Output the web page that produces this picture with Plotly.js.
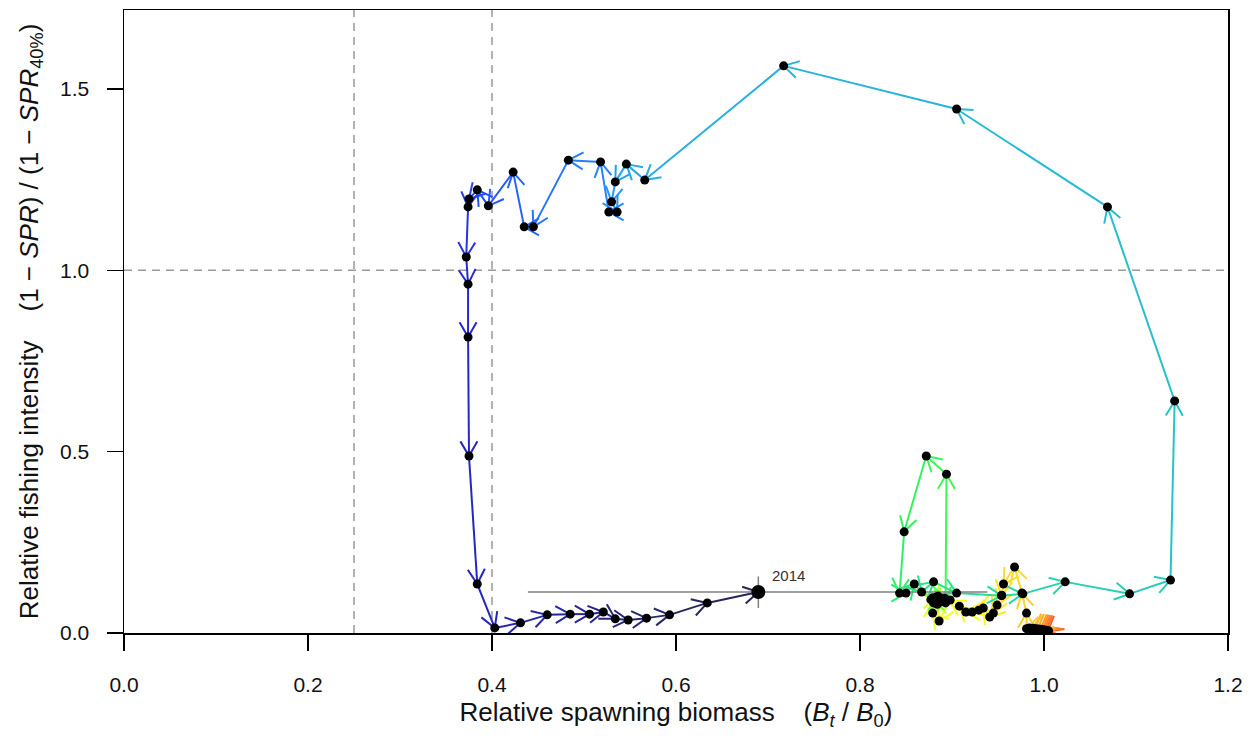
<!DOCTYPE html>
<html><head><meta charset="utf-8">
<script src="https://cdn.plot.ly/plotly-3.0.1.min.js"></script>
<style>html,body{margin:0;padding:0;background:#fff}</style>
</head><body>
<div id="chart" style="width:1256px;height:739px"></div>
<script>
// Relative spawning biomass (Bt/B0), in time order (earliest first, last = 2014)
const relSB = [
  1.005,1.004,1.003,1.002,1.001,1.000,0.999,0.998,0.997,0.996,0.994,0.993,0.991,0.990,0.988,0.986,0.984,0.981,
  0.981,0.976,0.968,0.956,0.954,0.949,0.945,0.941,0.934,0.929,0.922,0.915,0.908,
  0.898,0.886,0.879,0.880,0.879,0.883,0.887,0.882,0.889,0.884,0.891,0.877,0.885,0.892,0.893,
  0.894,
  0.872,0.848,0.843,0.850,0.859,0.867,0.880,0.905,0.954,0.977,
  1.023,1.093,1.1375,1.142,1.069,0.905,0.717,0.566,
  0.546,0.534,0.530,0.536,0.527,0.518,0.483,0.445,0.435,0.423,0.396,0.384,0.375,0.374,
  0.372,0.374,0.374,0.375,0.384,0.403,
  0.431,0.460,0.485,0.506,0.521,0.534,0.548,0.568,0.593,0.634,0.6895
];
// Relative fishing intensity (1-SPR)/(1-SPR40%)
const relSPR = [
  0.006,0.004,0.007,0.005,0.008,0.006,0.009,0.007,0.010,0.008,0.011,0.009,0.012,0.010,0.013,0.011,0.014,0.012,
  0.055,0.110,0.182,0.135,0.104,0.077,0.055,0.044,0.069,0.063,0.058,0.058,0.074,
  0.091,0.033,0.055,0.083,0.097,0.099,0.085,0.090,0.094,0.079,0.088,0.092,0.101,0.096,0.083,
  0.438,
  0.488,0.279,0.110,0.110,0.135,0.113,0.141,0.110,0.103,0.108,
  0.141,0.108,0.146,0.640,1.175,1.445,1.564,1.249,
  1.293,1.244,1.189,1.161,1.161,1.299,1.304,1.120,1.120,1.271,1.178,1.222,1.197,1.175,
  1.037,0.962,0.816,0.488,0.135,0.014,
  0.028,0.050,0.052,0.052,0.058,0.039,0.036,0.041,0.050,0.083,0.113
];
const lastYear = 2014;
const ciSB = [0.439, 0.9385];   // interval of final-year relative biomass
const ciSPR = [0.069, 0.156];   // interval of final-year relative fishing intensity
const refSB = [0.25, 0.40];
const refSPR = [1.0];
const xTicks = [0, 0.2, 0.4, 0.6, 0.8, 1.0, 1.2];
const xTickText = ['0.0','0.2','0.4','0.6','0.8','1.0','1.2'];
const yTicks = [0, 0.5, 1.0, 1.5];
const yTickText = ['0.0','0.5','1.0','1.5'];

const W = 1256, H = 739, M = {l:124, r:28, t:10, b:106};
const xr = [0, 1.2], yr = [0, 1.718];
const pxX = (W - M.l - M.r) / (xr[1] - xr[0]);
const pxY = (H - M.t - M.b) / (yr[1] - yr[0]);

// r4ss-style rich.colors.short palette, blended with white
function richColor(t) {
  const r = 1 / (1 + Math.exp(20 - 35 * t));
  const g = Math.min(Math.max(0, -0.8 + 6 * t - 5 * t * t), 1);
  const b = Math.exp(-0.5 * Math.pow((t - 0.25) / 0.15, 2));
  const a = 0.85;
  const f = v => Math.round((v * a + (1 - a)) * 255);
  return 'rgb(' + f(r) + ',' + f(g) + ',' + f(b) + ')';
}

const n = relSB.length;
const traces = [];
const barbLen = 17, barbAng = Math.PI / 6;
for (let i = 0; i < n - 1; i++) {
  const x0 = relSB[i], y0 = relSPR[i], x1 = relSB[i + 1], y1 = relSPR[i + 1];
  const dx = (x1 - x0) * pxX, dy = (y1 - y0) * pxY;
  const len = Math.hypot(dx, dy);
  const col = richColor(1 - (i + 1) / (n - 1));
  const xs = [x0, x1], ys = [y0, y1];
  if (len > 0) {
    const ax = -dx / len, ay = -dy / len;
    for (const s of [1, -1]) {
      const th = s * barbAng;
      const ex = ax * Math.cos(th) - ay * Math.sin(th);
      const ey = ax * Math.sin(th) + ay * Math.cos(th);
      xs.push(null, x1 + ex * barbLen / pxX, x1);
      ys.push(null, y1 + ey * barbLen / pxY, y1);
    }
  }
  traces.push({x: xs, y: ys, mode: 'lines', type: 'scatter',
    line: {color: col, width: 2}, hoverinfo: 'skip', showlegend: false});
}
// final-year intervals
traces.push({x: ciSB, y: [relSPR[n-1], relSPR[n-1]], mode: 'lines', type: 'scatter',
  line: {color: '#808080', width: 1.5}, showlegend: false, hoverinfo: 'skip'});
traces.push({x: [relSB[n-1], relSB[n-1]], y: ciSPR, mode: 'lines', type: 'scatter',
  line: {color: '#808080', width: 1.5}, showlegend: false, hoverinfo: 'skip'});
// points
traces.push({x: relSB.slice(0, n - 1), y: relSPR.slice(0, n - 1), mode: 'markers', type: 'scatter',
  marker: {color: '#000', size: 9}, showlegend: false});
traces.push({x: [relSB[n-1]], y: [relSPR[n-1]], mode: 'markers', type: 'scatter',
  marker: {color: '#000', size: 14}, showlegend: false});

const shapes = [];
refSB.forEach(v => shapes.push({type: 'line', xref: 'x', yref: 'paper', x0: v, x1: v, y0: 0, y1: 1,
  line: {color: '#999', width: 1.5, dash: '8px,6px'}, layer: 'below'}));
refSPR.forEach(v => shapes.push({type: 'line', xref: 'paper', yref: 'y', x0: 0, x1: 1, y0: v, y1: v,
  line: {color: '#999', width: 1.5, dash: '8px,6px'}, layer: 'below'}));

const axisCommon = {
  showgrid: false, zeroline: false, showline: true, mirror: true,
  linecolor: '#000', linewidth: 1.5, ticks: 'outside', ticklen: 16, tickwidth: 1.5, tickcolor: '#000',
  tickfont: {family: 'Liberation Sans, Arial, sans-serif', size: 21, color: '#111'}
};

const layout = {
  width: W, height: H, margin: M,
  paper_bgcolor: '#fff', plot_bgcolor: '#fff',
  font: {family: 'Liberation Sans, Arial, sans-serif', color: '#111'},
  xaxis: Object.assign({}, axisCommon, {
    range: xr, tickmode: 'array', tickvals: xTicks, ticktext: xTickText, ticklabelstandoff: 16,
    title: {text: 'Relative spawning biomass    (<i>B</i><sub><i>t</i></sub> / <i>B</i><sub>0</sub>)',
      font: {size: 26, color: '#111'}, standoff: 8}
  }),
  yaxis: Object.assign({}, axisCommon, {
    range: yr, tickmode: 'array', tickvals: yTicks, ticktext: yTickText, ticklabelstandoff: 13,
    title: {text: 'Relative fishing intensity    (1 − <i>SPR</i>) / (1 − <i>SPR</i><sub>40%</sub>)',
      font: {size: 26, color: '#111'}, standoff: 14}
  }),
  shapes: shapes,
  annotations: [{x: relSB[n-1], y: relSPR[n-1], xref: 'x', yref: 'y', text: String(lastYear),
    showarrow: false, xanchor: 'left', yanchor: 'bottom', xshift: 12, yshift: 6,
    font: {size: 15, color: '#333'}}]
};

Plotly.newPlot('chart', traces, layout, {displayModeBar: false, staticPlot: true});
</script>
</body></html>
